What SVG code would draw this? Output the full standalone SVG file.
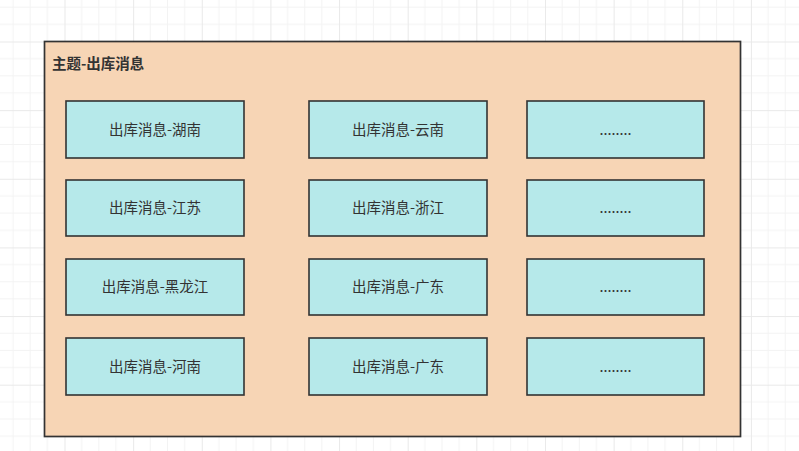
<svg xmlns="http://www.w3.org/2000/svg" width="799" height="451" viewBox="0 0 799 451">
  <defs>
    <pattern id="grid" patternUnits="userSpaceOnUse" x="64.5" y="41.5" width="68.64" height="68.64">
      <path d="M17.16 0V68.64M34.32 0V68.64M51.48 0V68.64M0 17.16H68.64M0 34.32H68.64M0 51.48H68.64" stroke="#f3f3f3" stroke-width="1" fill="none"/>
      <path d="M0.5 0V68.64M0 0.5H68.64" stroke="#e9e9e9" stroke-width="1" fill="none"/>
    </pattern>
    <style>
      .box { fill: #b6e9ea; stroke: #333333; stroke-width: 1.6; }
      .lbl { font-family: "Noto Sans CJK SC", "Noto Sans", sans-serif; font-size: 14.5px; fill: #333333; text-anchor: middle; dominant-baseline: central; }
    </style>
  </defs>
  <rect x="0" y="0" width="799" height="451" fill="#ffffff"/>
  <rect x="0" y="0" width="799" height="451" fill="url(#grid)"/>

  <g id="topic">
    <rect x="44.5" y="41.5" width="696" height="395" fill="#f7d5b5" stroke="#333333" stroke-width="1.7"/>
    <text x="52" y="62.5" font-family="'Noto Sans CJK SC', 'Noto Sans', sans-serif" font-size="14.5" font-weight="bold" fill="#333333" dominant-baseline="central">主题-出库消息</text>
  </g>

  <g id="n-hunan"><rect class="box" x="66" y="101" width="178" height="57"/><text class="lbl" x="155" y="128">出库消息-湖南</text></g>
  <g id="n-yunnan"><rect class="box" x="309" y="101" width="178" height="57"/><text class="lbl" x="398" y="128">出库消息-云南</text></g>
  <g id="n-more1"><rect class="box" x="527" y="101" width="177" height="57"/><text class="lbl" x="615.5" y="128">........</text></g>

  <g id="n-jiangsu"><rect class="box" x="66" y="180" width="178" height="56"/><text class="lbl" x="155" y="206.5">出库消息-江苏</text></g>
  <g id="n-zhejiang"><rect class="box" x="309" y="180" width="178" height="56"/><text class="lbl" x="398" y="206.5">出库消息-浙江</text></g>
  <g id="n-more2"><rect class="box" x="527" y="180" width="177" height="56"/><text class="lbl" x="615.5" y="206.5">........</text></g>

  <g id="n-heilongjiang"><rect class="box" x="66" y="259" width="178" height="56"/><text class="lbl" x="155" y="285.5">出库消息-黑龙江</text></g>
  <g id="n-guangdong1"><rect class="box" x="309" y="259" width="178" height="56"/><text class="lbl" x="398" y="285.5">出库消息-广东</text></g>
  <g id="n-more3"><rect class="box" x="527" y="259" width="177" height="56"/><text class="lbl" x="615.5" y="285.5">........</text></g>

  <g id="n-henan"><rect class="box" x="66" y="338" width="178" height="57"/><text class="lbl" x="155" y="365">出库消息-河南</text></g>
  <g id="n-guangdong2"><rect class="box" x="309" y="338" width="178" height="57"/><text class="lbl" x="398" y="365">出库消息-广东</text></g>
  <g id="n-more4"><rect class="box" x="527" y="338" width="177" height="57"/><text class="lbl" x="615.5" y="365">........</text></g>

  <g id="connectors"></g>
</svg>
